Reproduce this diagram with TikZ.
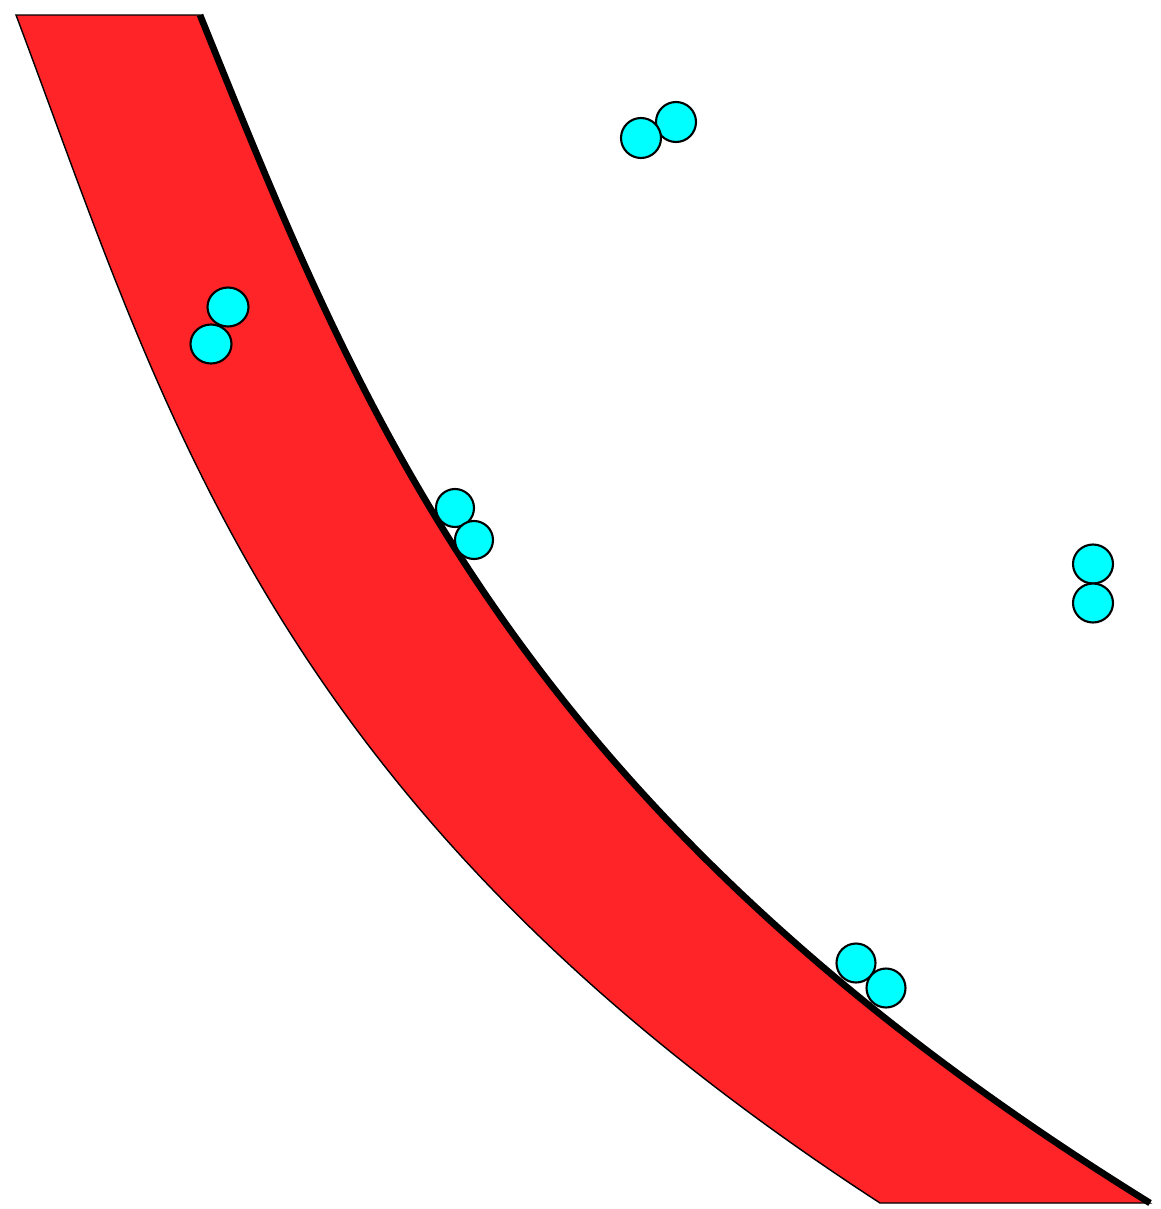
\documentclass[tikz,border=0pt]{standalone}
\usepackage{tikz}
\definecolor{bandred}{RGB}{255,36,39}
\definecolor{ballcyan}{RGB}{0,255,255}
\tikzset{
  band/.style={fill=bandred, draw=black, line width=0.4pt, line join=miter},
  rim/.style={draw=black, line width=1.9pt},
  ball/.style={fill=ballcyan, draw=black, line width=0.6pt}
}
\begin{document}
\begin{tikzpicture}[x=0.01cm,y=-0.01cm]
\useasboundingbox (0,0) rectangle (1160,1209);
% red band
\coordinate (tl) at (16,15);
\coordinate (tr) at (200,15);
\coordinate (bl) at (880,1203);
\coordinate (br) at (1150,1203);
\path[band] (tl) .. controls (165,411) and (270,807) .. (bl)
  -- (br) .. controls (508,807) and (358,411) .. (tr) -- cycle;
% thick right rim
\draw[rim, xshift=0.025cm] (tr) .. controls (358,411) and (508,807) .. (br);
% cyan pairs
\draw[ball] (228,307) ellipse [x radius=20.5, y radius=19.5];
\draw[ball] (211,344) ellipse [x radius=20.5, y radius=19.5];
\draw[ball] (455,508) ellipse [x radius=19, y radius=19];
\draw[ball] (474,540) ellipse [x radius=19, y radius=19];
\draw[ball] (856,963) ellipse [x radius=19.5, y radius=19.5];
\draw[ball] (886,988) ellipse [x radius=19.5, y radius=19.5];
\draw[ball] (676,122) ellipse [x radius=20, y radius=20];
\draw[ball] (641,138) ellipse [x radius=20, y radius=20];
\draw[ball] (1093,564) ellipse [x radius=20, y radius=19.5];
\draw[ball] (1093,603) ellipse [x radius=20, y radius=19.5];
\end{tikzpicture}
\end{document}
